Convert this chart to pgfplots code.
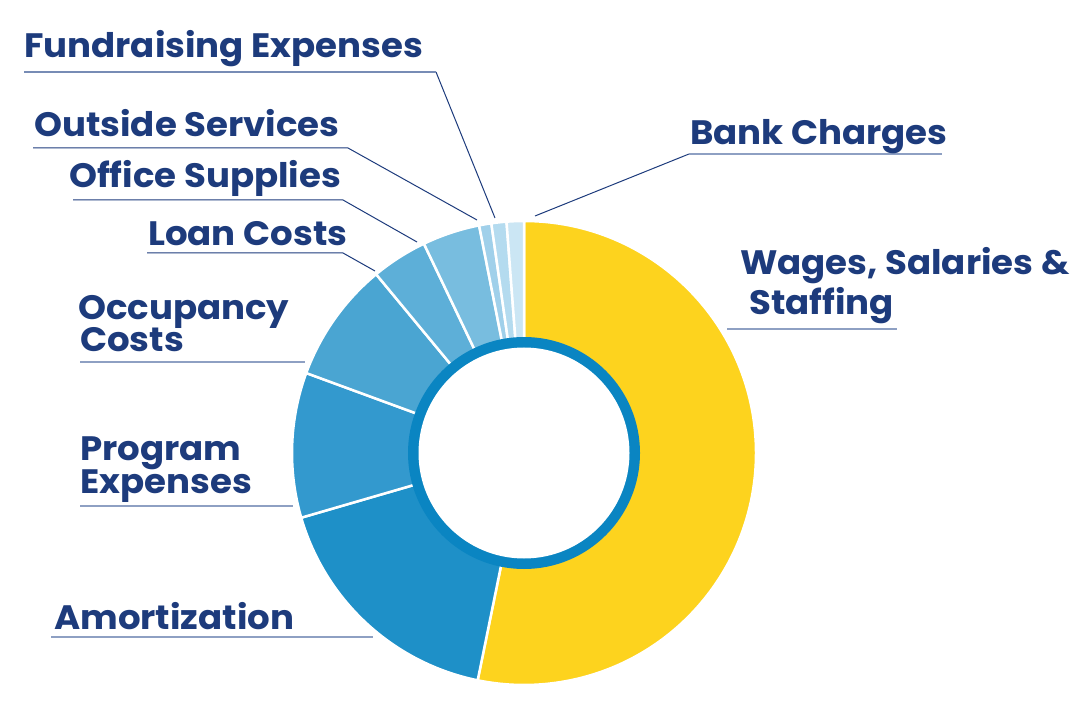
\documentclass[border=0pt]{standalone}
\usepackage{pgfplots}
\pgfplotsset{compat=1.18}
\usepackage{fontspec}
\setmainfont{Poppins}[FakeStretch=1.05]
\definecolor{navy}{HTML}{1D3B7C}
\definecolor{ulgray}{HTML}{8EA0C3}
\definecolor{cWages}{HTML}{FDD31E}
\definecolor{cAmort}{HTML}{1E90C8}
\definecolor{cProg}{HTML}{3399CE}
\definecolor{cOcc}{HTML}{4AA5D2}
\definecolor{cLoan}{HTML}{5DAFD8}
\definecolor{cOffice}{HTML}{78BDDF}
\definecolor{cOutside}{HTML}{A0D0EA}
\definecolor{cFund}{HTML}{B4DBEF}
\definecolor{cBank}{HTML}{CBE6F4}
\definecolor{cRing}{HTML}{0A85C2}
\tikzset{lbl/.style={anchor=base west, text=navy, inner sep=0pt,
    font=\fontsize{34}{40}\selectfont\bfseries}}
% slice: start percent, end percent, colour (cumulative shares, clockwise from top)
\newcommand{\slice}[3]{%
  \fill[#3, draw=white, line width=2.5bp] (axis cs:524,274) -- ++({90-3.6*#1}:232bp)
    arc[start angle={90-3.6*#1}, end angle={90-3.6*#2}, radius=232bp] -- cycle;}
\begin{document}
\begin{tikzpicture}
\begin{axis}[
  scale only axis, width=1080bp, height=727bp,
  xmin=0, xmax=1080, ymin=0, ymax=727,
  hide axis, clip=false,
]
\path (rel axis cs:0,0) rectangle (rel axis cs:1,1);
% shares (percent): Wages 53.2, Amortization 17.3, Program 10.1, Occupancy 8.4,
% Loan 3.9, Office 4.0, Outside 0.85, Fundraising 1.05, Bank 1.2
\slice{0}{53.2}{cWages}
\slice{53.2}{70.5}{cAmort}
\slice{70.5}{80.6}{cProg}
\slice{80.6}{89.0}{cOcc}
\slice{89.0}{92.9}{cLoan}
\slice{92.9}{96.9}{cOffice}
\slice{96.9}{97.75}{cOutside}
\slice{97.75}{98.8}{cFund}
\slice{98.8}{100}{cBank}
\fill[cRing] (axis cs:524,274) circle[radius=116bp];
\fill[white] (axis cs:524,274) circle[radius=105.5bp];
% leader lines
\addplot[navy, line width=1bp] coordinates {(436,655) (495,509)};
\addplot[ulgray!80!navy, line width=1.3bp] coordinates {(24,655) (436,655)};
\addplot[navy, line width=1bp] coordinates {(33,579) (348,579) (477,507)};
\addplot[navy, line width=1bp] coordinates {(73,527) (343,527) (417,485)};
\addplot[navy, line width=1bp] coordinates {(147,474) (343,474) (375,456)};
\addplot[navy, line width=1bp] coordinates {(689,573) (535,511)};
\addplot[ulgray, line width=2bp] coordinates {(689,573) (942,573)};
\addplot[ulgray, line width=2bp] coordinates {(727,398) (897,398)};
\addplot[ulgray, line width=2bp] coordinates {(80,365) (305,365)};
\addplot[ulgray, line width=2bp] coordinates {(80,221) (293,221)};
\addplot[ulgray, line width=2bp] coordinates {(51,90) (373,90)};
% labels
\node[lbl] at (axis cs:24,669) {Fundraising Expenses};
\node[lbl] at (axis cs:34,590) {Outside Services};
\node[lbl] at (axis cs:69,539) {Office Supplies};
\node[lbl] at (axis cs:148,481) {Loan Costs};
\node[lbl] at (axis cs:690,582) {Bank Charges};
\node[lbl] at (axis cs:740,452) {Wages, Salaries \&};
\node[lbl] at (axis cs:749,412) {Staffing};
\node[lbl] at (axis cs:78,407) {Occupancy};
\node[lbl] at (axis cs:80,375) {Costs};
\node[lbl] at (axis cs:80,267) {Program};
\node[lbl] at (axis cs:80,234) {Expenses};
\node[lbl] at (axis cs:54,98) {Amortization};
\end{axis}
\end{tikzpicture}
\end{document}
